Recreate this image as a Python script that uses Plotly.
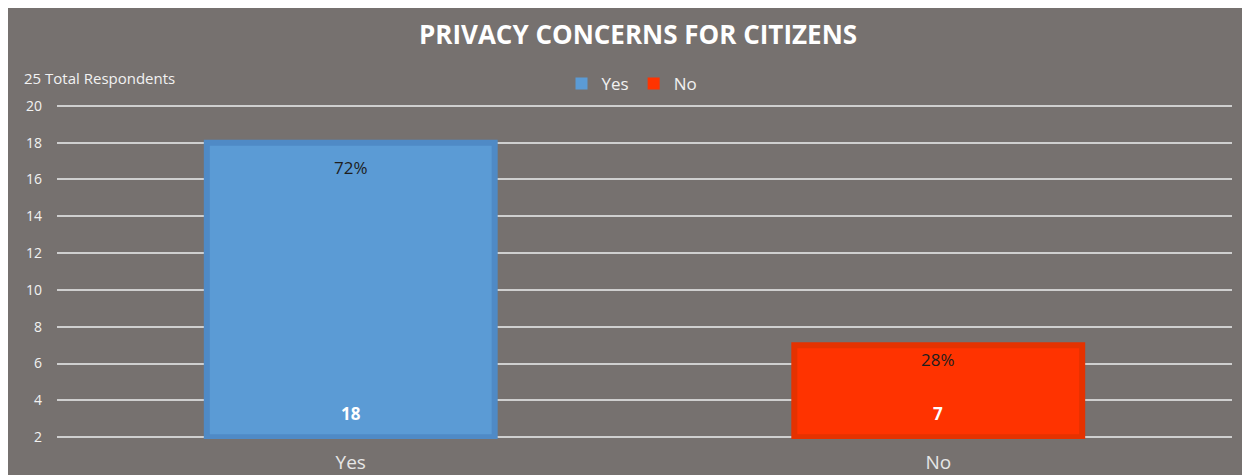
import plotly.graph_objects as go

categories = ["Yes", "No"]
values = [18, 7]
bar_colors = ["#5B9BD5", "#FF3300"]
border_colors = ["#4F8AC6", "#E53200"]
title_text = "PRIVACY CONCERNS FOR CITIZENS"
y_ticks = [2, 4, 6, 8, 10, 12, 14, 16, 18, 20]
axis_min = 2
axis_max = 20

total = sum(values)
BG = "#76716F"
FONT = "Open Sans"
pct_label_shift = [-25, -14]

# the page puts the figure at an 8px offset
OFF = 8
W, H = 1250, 475
ml, mr, mt, mb = 57 - OFF, 1250 - 1232 + OFF, 104 - OFF, 475 - 439 + OFF
pw = W - ml - mr
ph = H - mt - mb

fig = go.Figure()
for cat, v, c, bc, sh in zip(categories, values, bar_colors, border_colors, pct_label_shift):
    fig.add_trace(go.Bar(
        x=[cat], y=[v - axis_min], base=axis_min, name=cat,
        marker=dict(color=c, line=dict(color=bc, width=6)),
        width=0.49, hoverinfo="skip", showlegend=False,
    ))
    fig.add_trace(go.Bar(
        x=[None], y=[None], name=cat,
        marker=dict(color=c, line=dict(width=0)),
        hoverinfo="skip", showlegend=True,
    ))
    fig.add_annotation(x=cat, y=v, xref="x", yref="y", text=f"{round(100*v/total)}%",
                       showarrow=False, yshift=sh,
                       font=dict(family=FONT, size=17, color="#1E1E1E"))
    fig.add_annotation(x=cat, y=axis_min, xref="x", yref="y", text=f"<b>{v}</b>",
                       showarrow=False, yshift=24,
                       font=dict(family=FONT, size=17, color="white"))

fig.add_annotation(xref="paper", yref="paper", x=(22 - 57) / pw, y=1 + (104 - 78) / ph,
                   xanchor="left", yanchor="middle", showarrow=False,
                   text=f"{total} Total Respondents",
                   font=dict(family=FONT, size=15, color="#F2F2F2"))

fig.update_layout(
    width=W, height=H,
    margin=dict(l=ml, r=mr, t=mt, b=mb, autoexpand=False),
    paper_bgcolor=BG, plot_bgcolor=BG,
    title=dict(text=f"<b>{title_text}</b>", x=(638 - OFF) / W, xanchor="center",
               y=1 - (35 - OFF) / H, yanchor="middle",
               font=dict(family=FONT, size=26, color="white")),
    showlegend=True,
    legend=dict(orientation="h", x=(632 - 57) / pw, xanchor="center",
                y=1 + (104 - 84) / ph, yanchor="middle",
                font=dict(family=FONT, size=17, color="#F2F2F2"),
                bgcolor="rgba(0,0,0,0)", itemwidth=30, traceorder="normal"),
    bargap=0.5,
    barmode="overlay",
)
fig.update_xaxes(type="category", categoryorder="array", categoryarray=categories,
                 showgrid=False, zeroline=False, showline=False, ticks="",
                 tickfont=dict(family=FONT, size=19, color="#E6E6E6"),
                 ticklabelstandoff=10, automargin=False)
fig.update_yaxes(range=[axis_min - 0.1, axis_max + 0.1], tickvals=y_ticks,
                 showgrid=True, gridcolor="#CFCFCF", gridwidth=1.5,
                 zeroline=False, showline=False, ticks="",
                 tickfont=dict(family=FONT, size=14, color="#F2F2F2"),
                 ticklabelstandoff=14, automargin=False)

fig.write_html("out.html")
